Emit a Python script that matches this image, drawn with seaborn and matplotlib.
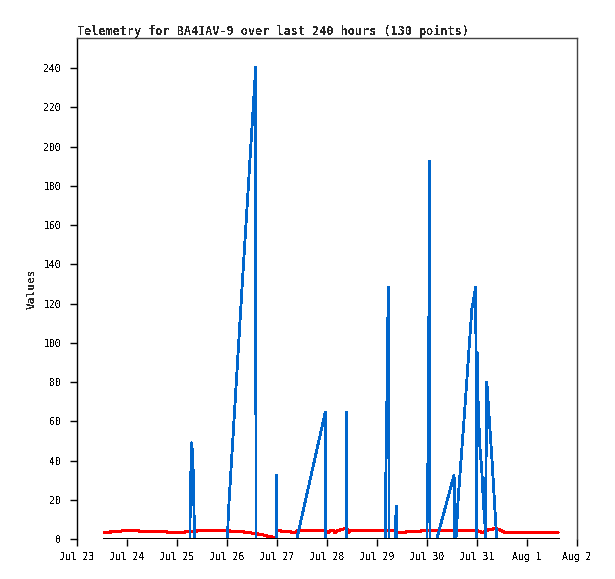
import matplotlib
matplotlib.use("Agg")
import matplotlib.pyplot as plt
import matplotlib.dates as mdates
import numpy as np
import pandas as pd
import seaborn as sns

# hours since Jul 23 00:00
blue_hours = [13.0, 54.2, 54.4, 55.1, 55.7, 56.2, 56.3,
              72.2, 72.7, 79.5, 85.8, 85.9,
              95.8, 95.9, 96.0,
              105.5, 119.2, 119.4,
              129.4, 129.5, 129.6,
              147.9, 148.1, 148.7, 149.1, 149.6, 149.8,
              152.6, 152.8, 153.5, 153.6,
              168.0, 168.1, 168.6, 169.3, 169.4,
              172.7, 181.0, 181.2,
              181.9, 183.0, 186.2, 189.5, 191.4, 191.8,
              192.1, 192.6, 193.4, 194.3, 195.0, 195.8, 196.0,
              196.7, 197.4, 199.1, 200.6, 201.5, 230.9]
blue_values = [0, 0, 25, 49, 37, 13, 0,
               0, 14, 133, 240.5, 0,
               0, 32.6, 0,
               0, 64.7, 0,
               0, 64.7, 0,
               0, 21.5, 64.7, 107, 128.4, 0,
               0, 8.6, 16.8, 0,
               0, 17, 49, 192.6, 0,
               0, 32.6, 0,
               0, 21, 67, 117, 128.4, 0,
               95, 66, 47, 35, 20, 8, 0,
               80, 69, 42, 15, 0, 0]

red_hours = [13.0, 15.8, 16.3, 21.1, 21.6, 29.8, 30.2, 43.2, 43.7, 51.4,
             51.8, 57.1, 57.6, 73.4, 73.9, 80.2, 80.6, 83.5, 84.0, 85.9,
             86.9, 89.8, 91.2, 94.1, 95.8, 96.0, 97.9, 98.4, 102.7, 103.2,
             105.1, 105.6, 119.5, 120.5, 121.4, 123.4, 123.8, 124.8, 126.7, 128.6,
             129.6, 130.1, 131.0, 153.1, 153.6, 157.4, 157.9, 164.6, 165.1, 192.5,
             193.4, 194.9, 196.3, 198.2, 201.1, 203.0, 204.5, 205.9, 230.9]
red_values = [3.2, 3.2, 3.9, 3.9, 4.2, 4.2, 3.7, 3.7, 3.2, 3.2,
              3.7, 3.7, 4.2, 4.2, 3.7, 3.7, 3.2, 3.2, 2.9, 2.9,
              2.5, 2.0, 1.5, 0.9, 0.9, 4.2, 4.2, 3.7, 3.7, 3.2,
              3.2, 4.2, 4.2, 3.2, 4.2, 4.2, 3.2, 4.2, 4.7, 5.3,
              5.3, 3.2, 4.2, 4.2, 3.2, 3.2, 3.7, 3.7, 4.2, 4.2,
              3.7, 3.2, 4.2, 4.9, 5.3, 4.7, 3.7, 3.2, 3.2]

black_hours = [13.0, 230.9]
black_values = [0, 0]

title = "Telemetry for BA4IAV-9 over last 240 hours (130 points)"
start = pd.Timestamp("2024-07-23")
end = pd.Timestamp("2024-08-02")


def to_times(hours):
    return start + pd.to_timedelta(hours, unit="h")


sns.set_style("white")
plt.rcParams["font.family"] = ["DejaVu Sans Mono", "DejaVu Sans"]
plt.rcParams["text.antialiased"] = False

fig = plt.figure(figsize=(6.15, 5.79), dpi=100)
ax = fig.add_axes([77 / 615, 1 - 539 / 579, 500 / 615, 501 / 579])

sns.lineplot(x=to_times(red_hours), y=red_values, estimator=None, sort=False,
             color="#ff0000", linewidth=1.5, antialiased=False, ax=ax)
sns.lineplot(x=to_times(blue_hours), y=blue_values, estimator=None, sort=False,
             color="#0066cc", linewidth=1.3, antialiased=False, ax=ax)
sns.lineplot(x=to_times(black_hours), y=black_values, estimator=None, sort=False,
             color="black", linewidth=1.8, antialiased=False, ax=ax)

ax.set_xlim(start, end)
ax.set_ylim(0, 255.3)
ax.set_yticks(np.arange(0, 241, 20))
ax.xaxis.set_major_locator(mdates.DayLocator())
ax.xaxis.set_major_formatter(mdates.DateFormatter("%b %-d"))

ax.tick_params(axis="both", direction="out", length=5, width=1, color="black",
               labelsize=7, labelcolor="black")
ax.tick_params(axis="y", pad=6.5, left=True)
ax.tick_params(axis="x", pad=4.5, bottom=True)

ax.spines["bottom"].set_visible(False)
ax.spines["left"].set_color("black")
ax.spines["left"].set_linewidth(1)
for side in ["top", "right"]:
    ax.spines[side].set_color("#444444")
    ax.spines[side].set_linewidth(1)

ax.set_title(title, loc="left", fontsize=8.5, fontweight="bold", pad=2)
ax.set_ylabel("Values", fontsize=8, fontweight="bold", labelpad=5)
ax.set_xlabel("")

fig.savefig("out.png", dpi=100)
